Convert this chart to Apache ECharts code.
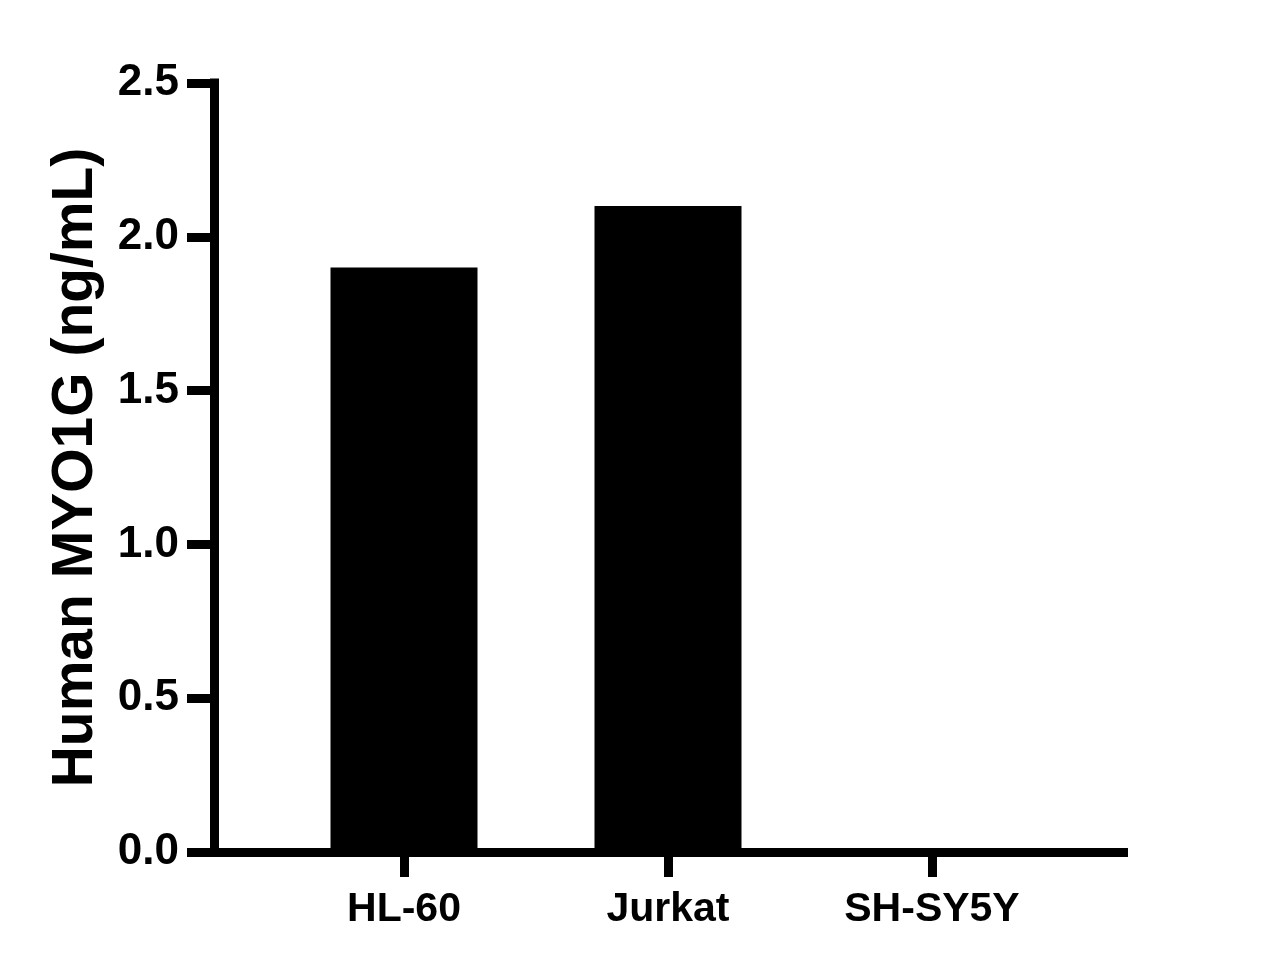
<!DOCTYPE html>
<html>
<head>
<meta charset="utf-8">
<script src="https://cdn.jsdelivr.net/npm/echarts@6/dist/echarts.min.js"></script>
<style>
html,body{margin:0;padding:0;background:#fff;}
#chart{width:1262px;height:972px;}
</style>
</head>
<body>
<div id="chart"></div>
<script>
const categories = ["HL-60", "Jurkat", "SH-SY5Y"];
const values = [1.9, 2.1, 0];
const yTicks = [0, 0.5, 1.0, 1.5, 2.0, 2.5];
const yTitle = "Human MYO1G (ng/mL)";

const FONT = "'Liberation Sans', Arial, sans-serif";
const chart = echarts.init(document.getElementById('chart'), null, {renderer: 'canvas'});
const idx = categories.map((c, i) => i);

chart.setOption({
  backgroundColor: '#ffffff',
  animation: false,
  grid: {left: 214, right: 138.5, top: 83, bottom: 120, containLabel: false},
  xAxis: {
    type: 'value',
    min: -0.7197,
    max: 2.7254,
    splitLine: {show: false},
    axisLine: {show: true, onZero: false, lineStyle: {color: '#000', width: 9, cap: 'square'}},
    axisTick: {show: true, customValues: idx, length: 25, lineStyle: {color: '#000', width: 9}},
    axisLabel: {
      show: true, customValues: idx, margin: 37,
      color: '#000', fontFamily: FONT, fontWeight: 'bold', fontSize: 41,
      formatter: v => categories[Math.round(v)]
    }
  },
  yAxis: {
    type: 'value',
    min: yTicks[0],
    max: yTicks[yTicks.length - 1],
    interval: 0.5,
    name: yTitle,
    nameLocation: 'middle',
    nameGap: 109,
    nameTextStyle: {color: '#000', fontFamily: FONT, fontWeight: 'bold', fontSize: 57},
    splitLine: {show: false},
    axisLine: {show: true, onZero: false, lineStyle: {color: '#000', width: 9, cap: 'square'}},
    axisTick: {show: true, length: 27, lineStyle: {color: '#000', width: 9}},
    axisLabel: {
      margin: 35, color: '#000', fontFamily: FONT, fontWeight: 'bold', fontSize: 44,
      formatter: v => v.toFixed(1)
    }
  },
  series: [{
    type: 'bar',
    data: values.map((v, i) => [i, v]),
    barWidth: 147,
    itemStyle: {color: '#000'},
    z: 1
  }]
});
</script>
</body>
</html>
